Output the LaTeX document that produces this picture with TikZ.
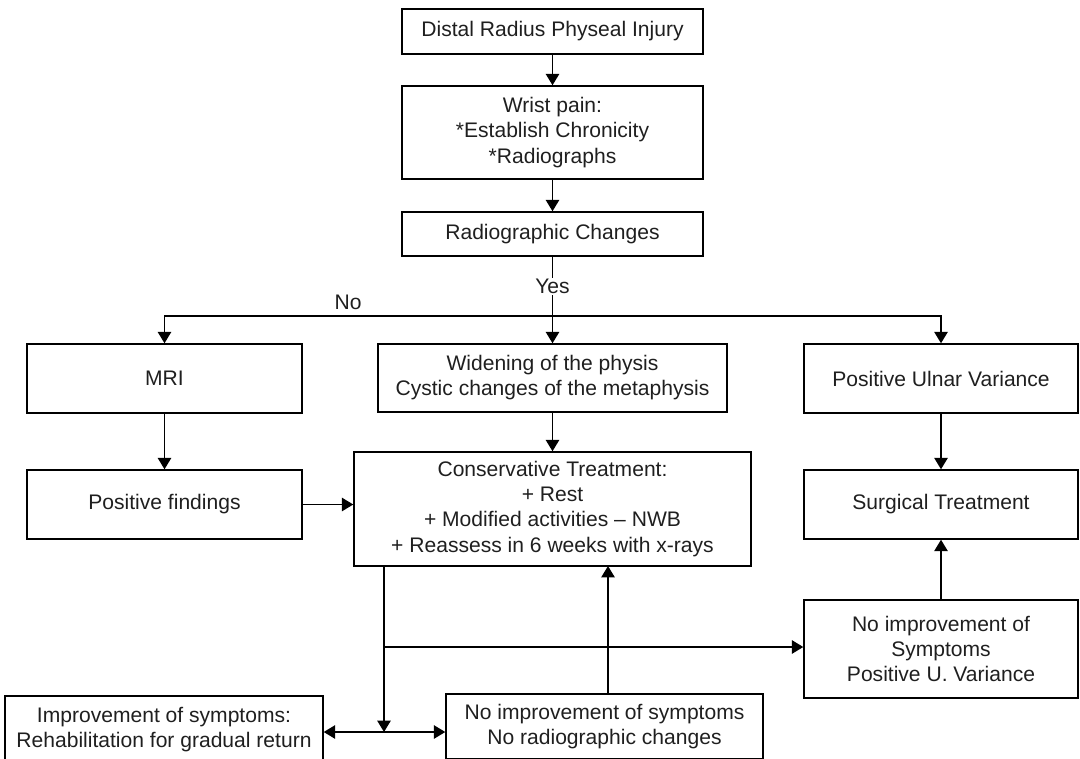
\documentclass[tikz,border=0pt]{standalone}
\usepackage{fontspec}
\setmainfont{Liberation Sans}
\usetikzlibrary{arrows.meta}

\tikzset{every picture/.style={line width=1.1pt}}
\tikzset{
  box/.style={draw, align=center, inner sep=0pt, text=black!88, font=\fontsize{15.8}{18.8}\selectfont},
  arr/.style={-{Triangle[length=8.5pt,width=10pt]}},
  darr/.style={{Triangle[length=8.5pt,width=10pt]}-{Triangle[length=8.5pt,width=10pt]}},
  lbl/.style={inner sep=1pt, text=black!88, font=\fontsize{15.8}{18.8}\selectfont}
}

\begin{document}
\begin{tikzpicture}[x=0.75pt,y=0.75pt,yscale=-1,xscale=1]
\useasboundingbox (0,0) rectangle (1080,759);
\clip (0,0) rectangle (1080,759);

%Shape: Rectangle [top column]
\node [box, minimum width=225.75pt, minimum height=33.75pt] (injury) at (552.5,31.5) {Distal Radius Physeal Injury};
\node [box, minimum width=225.75pt, minimum height=69.75pt] (pain) at (552.5,132.5) {Wrist pain:\\*Establish Chronicity\\*Radiographs};
\node [box, minimum width=225.75pt, minimum height=33pt] (changes) at (552.5,234) {Radiographic Changes};

%Shape: Rectangle [second row]
\node [box, minimum width=206.25pt, minimum height=51.75pt] (mri) at (164.5,378.5) {MRI};
\node [box, minimum width=261.75pt, minimum height=51pt] (widen) at (552.5,378) {Widening of the physis\\Cystic changes of the metaphysis};
\node [box, minimum width=205.5pt, minimum height=51.75pt] (ulnar) at (941,378.5) {Positive Ulnar Variance};

%Shape: Rectangle [third row]
\node [box, minimum width=206.25pt, minimum height=51.75pt] (findings) at (164.5,504.5) {Positive findings};
\node [box, minimum width=297.75pt, minimum height=85.5pt] (conserv) at (552.5,509) {Conservative Treatment:\\+ Rest\\+ Modified activities -- NWB\\+ Reassess in 6 weeks with x-rays};
\node [box, minimum width=205.5pt, minimum height=51.75pt] (surgery) at (941,504.5) {Surgical Treatment};

%Shape: Rectangle [bottom]
\node [box, minimum width=205.5pt, minimum height=73.5pt] (noimpr) at (941,649) {No improvement of\\Symptoms\\Positive U. Variance};
\node [box, minimum width=238.5pt, minimum height=51pt] (improve) at (164,730) {Improvement of symptoms:\\Rehabilitation for gradual return};
\node [box, minimum width=237.75pt, minimum height=48.75pt] (nochange) at (604.5,726.5) {No improvement of symptoms\\No radiographic changes};

%Coordinates of the branch points
\coordinate (split) at (552.5,316);
\coordinate (drop) at (384,566);
\coordinate (fork) at (384,647);
\coordinate (fork2) at (384,732);
\coordinate (back) at (608,566);

%Straight Lines [top column]
\draw [arr] (injury) -- (pain);
\draw [arr] (pain) -- (changes);
\draw (changes) -- node [lbl, fill=white] {Yes} (split);
\node [lbl] (no) at (348,302) {No};
\draw [arr] (split) -- (widen);
\draw [arr] (split) -| (mri);
\draw [arr] (split) -| (ulnar);

%Straight Lines [middle]
\draw [arr] (mri) -- (findings);
\draw [arr] (findings.east) -- (findings.east -| conserv.west);
\draw [arr] (widen) -- (conserv);
\draw [arr] (ulnar) -- (surgery);

%Straight Lines [bottom]
\draw (drop) -- (fork);
\draw [arr] (fork) -- (fork -| noimpr.west);
\draw [arr] (fork) -- (fork2);
\draw [darr] (improve.east |- fork2) -- (fork2 -| nochange.west);
\draw [arr] (nochange.north -| back) -- (back);
\draw [arr] (noimpr) -- (surgery);

\end{tikzpicture}
\end{document}
